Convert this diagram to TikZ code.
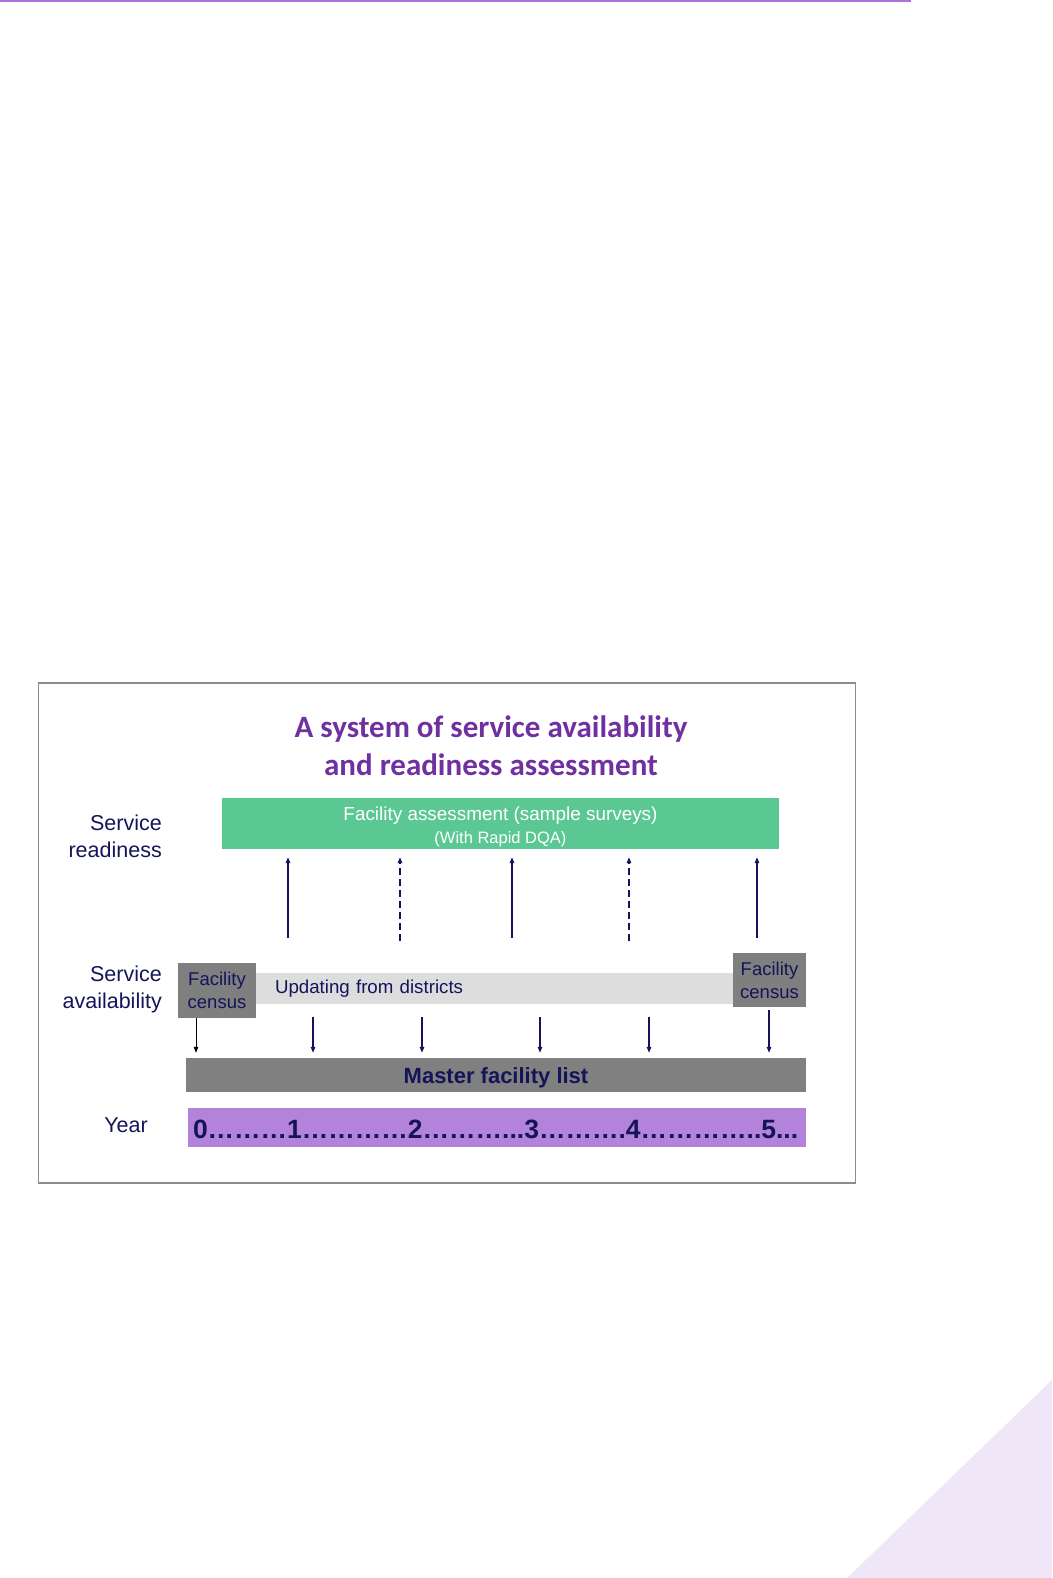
\documentclass[tikz,border=0pt]{standalone}
\usepackage{fontspec}
\setmainfont{Liberation Sans}
\newfontfamily\titlefont{Carlito}
\usetikzlibrary{positioning, arrows.meta}
\definecolor{topline}{HTML}{A874DA}
\definecolor{cornerfill}{HTML}{EFE6F8}
\definecolor{framegray}{HTML}{8C8C8C}
\definecolor{titlepurple}{HTML}{7030A0}
\definecolor{navy}{HTML}{14145A}
\definecolor{readygreen}{HTML}{5BC894}
\definecolor{censusgray}{HTML}{7F7F7F}
\definecolor{updategray}{HTML}{DDDDDD}
\definecolor{mastergray}{HTML}{808080}
\definecolor{yearpurple}{HTML}{B383DB}

\begin{document}
\begin{tikzpicture}[x=1pt, y=-1pt,
    rowlabel/.style={anchor=east, align=right, text=navy, inner sep=0pt,
    font=\fontsize{21.5}{27}\selectfont},
    bar/.style={rectangle, inner sep=0pt, align=center},
    census/.style={bar, fill=censusgray, text=navy,
    font=\fontsize{18.5}{23}\selectfont},
    uparrow/.style={-{Triangle[length=6pt, width=4.5pt]}, line width=1.3pt, draw=navy,
    shorten >=8pt},
    downarrow/.style={-{Triangle[length=6pt, width=4.5pt]}, line width=1.3pt, draw=navy,
    shorten >=5pt},
    dashedline/.style={dash pattern=on 7pt off 4pt}
]
\useasboundingbox (0,0) rectangle (1052,1578);

% page decoration
\draw[topline, line width=2pt] (0,1) -- (911,1);
\fill[cornerfill] (847,1578) -- (1052,1380) -- (1052,1578) -- cycle;
\draw[framegray, line width=1.5pt] (38.5,683) rectangle (855.5,1183);

\node[titlepurple, align=center, font=\titlefont\bfseries\fontsize{31}{38}\selectfont]
    (title) at (491,746) {A system of service availability\\and readiness assessment};

% rows
\node[bar, fill=readygreen, text=white, minimum width=557pt, minimum height=51pt,
    text height=42.5pt, font=\fontsize{18.9}{22.5}\selectfont]
    (ready) at (500.5,823.5) {Facility assessment (sample surveys)\\
    {\fontsize{16.5}{22.5}\selectfont (With Rapid DQA)}};
\node[rowlabel] (readylbl) at (162,836) {Service\\readiness};

\node[bar, fill=updategray, text=navy, minimum width=477pt, minimum height=31pt,
    align=left, text width=439pt, inner xsep=19pt, font=\fontsize{18.7}{23}\selectfont]
    (update) at (494.5,988.5) {Updating from districts};
\node[census, minimum width=78pt, minimum height=55pt] (censusL) at (217,990.5) {Facility\\census};
\node[census, minimum width=73pt, minimum height=54pt] (censusR) at (769.5,980) {Facility\\census};
\node[rowlabel] (availlbl) at (162,989) {Service\\availability};

\node[bar, fill=mastergray, text=navy, minimum width=620pt, minimum height=34pt,
    text height=22pt, font=\bfseries\fontsize{22}{25}\selectfont] (master) at (496,1075) {Master facility list};

\node[bar, fill=yearpurple, text=navy, minimum width=618pt, minimum height=39pt,
    align=left, text width=608pt, inner xsep=5pt, text height=23pt,
    font=\bfseries\fontsize{26.5}{30}\selectfont]
    (year) at (497,1127.5) {0………1…………2………...3……….4…………..5...};
\node[rowlabel] (yearlbl) at (148,1125.5) {Year};

% up arrows
\foreach \x/\y/\s [count=\i] in {288/938/solid, 400/941/dashedline, 512/938/solid, 629/941/dashedline, 757/938/solid} {
    \coordinate (up\i) at (\x,\y);
    \draw[uparrow, \s] (up\i) -- (up\i |- ready.south);
}

% down arrows
\coordinate (dn0) at (196,0);
\draw[downarrow, draw=black, line width=1pt] (dn0 |- censusL.south) -- (dn0 |- master.north);
\foreach \x [count=\i] in {313, 422, 540, 649} {
    \coordinate (dn\i) at (\x,1017);
    \draw[downarrow] (dn\i) -- (dn\i |- master.north);
}
\coordinate (dn5) at (769,0);
\draw[downarrow] ([yshift=-3pt]dn5 |- censusR.south) -- (dn5 |- master.north);

\end{tikzpicture}
\end{document}
